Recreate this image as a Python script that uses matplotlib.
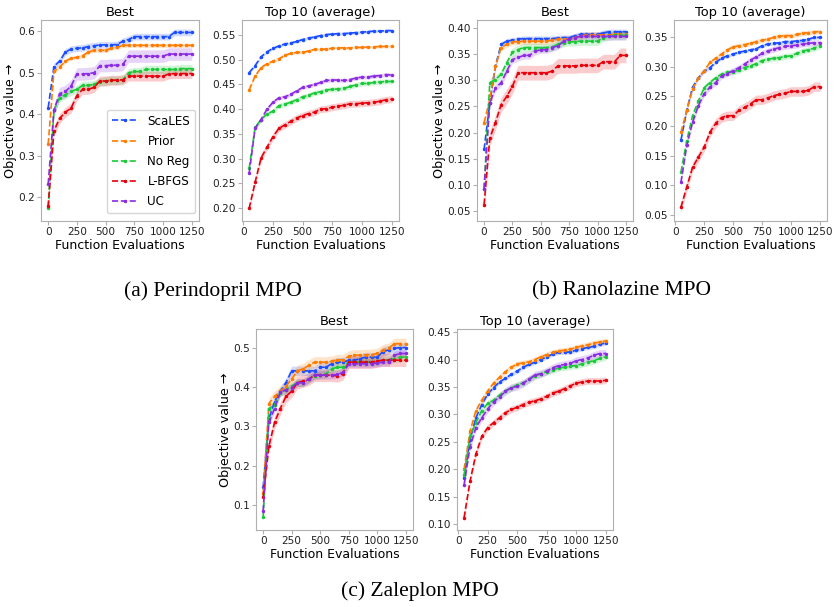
import matplotlib
matplotlib.use('Agg')
import matplotlib.pyplot as plt
import numpy as np

plt.rcParams.update({
    'font.family': 'DejaVu Sans',
    'xtick.labelsize': 7.6,
    'ytick.labelsize': 7.6,
    'axes.titlesize': 9.4,
    'legend.fontsize': 8.6,
})

# --- dati ---
x_best = list(range(0, 1251, 50))
x_top = list(range(50, 1251, 50))

methods = ['ScaLES', 'Prior', 'No Reg', 'L-BFGS', 'UC']
colors = ['#1a4dff', '#ff7c00', '#1ac938', '#e8000b', '#8b2be2']

# (a) Perindopril MPO
peri_best_scales = [0.416, 0.515, 0.528, 0.550, 0.557, 0.559, 0.560, 0.563, 0.565, 0.567, 0.567, 0.567, 0.568,
                    0.576, 0.580, 0.587, 0.587, 0.587, 0.587, 0.587, 0.587, 0.587, 0.597, 0.597, 0.597, 0.597]
peri_best_prior = [0.328, 0.503, 0.514, 0.528, 0.535, 0.537, 0.541, 0.550, 0.554, 0.554, 0.554, 0.559, 0.561,
                   0.566, 0.566, 0.566, 0.566, 0.566, 0.566, 0.566, 0.566, 0.566, 0.566, 0.566, 0.566, 0.566]
peri_best_noreg = [0.175, 0.410, 0.440, 0.447, 0.455, 0.460, 0.470, 0.470, 0.472, 0.478, 0.480, 0.482, 0.482,
                   0.483, 0.500, 0.503, 0.503, 0.508, 0.508, 0.508, 0.508, 0.508, 0.508, 0.510, 0.510, 0.510]
peri_best_lbfgs = [0.178, 0.360, 0.390, 0.405, 0.415, 0.445, 0.460, 0.460, 0.465, 0.480, 0.480, 0.482, 0.482,
                   0.483, 0.492, 0.492, 0.492, 0.492, 0.492, 0.492, 0.492, 0.497, 0.498, 0.498, 0.498, 0.498]
peri_best_uc = [0.232, 0.410, 0.450, 0.455, 0.468, 0.497, 0.497, 0.498, 0.500, 0.517, 0.517, 0.518, 0.518,
                0.520, 0.540, 0.540, 0.540, 0.540, 0.540, 0.540, 0.540, 0.545, 0.545, 0.545, 0.545, 0.545]
peri_best_band = [0.008, 0.005, 0.010, 0.012, 0.015]

peri_top_scales = [0.474, 0.488, 0.506, 0.516, 0.523, 0.528, 0.532, 0.534, 0.537, 0.541, 0.544, 0.546, 0.549,
                   0.551, 0.552, 0.553, 0.553, 0.554, 0.555, 0.556, 0.557, 0.558, 0.558, 0.559, 0.559]
peri_top_prior = [0.439, 0.467, 0.484, 0.492, 0.497, 0.502, 0.509, 0.513, 0.515, 0.515, 0.518, 0.521, 0.521,
                  0.522, 0.523, 0.524, 0.524, 0.524, 0.525, 0.525, 0.526, 0.526, 0.527, 0.527, 0.527]
peri_top_noreg = [0.280, 0.363, 0.379, 0.390, 0.396, 0.407, 0.410, 0.414, 0.419, 0.425, 0.428, 0.433, 0.435,
                  0.439, 0.440, 0.441, 0.442, 0.446, 0.449, 0.452, 0.452, 0.454, 0.455, 0.456, 0.456]
peri_top_lbfgs = [0.199, 0.252, 0.301, 0.323, 0.344, 0.361, 0.368, 0.375, 0.382, 0.387, 0.391, 0.394, 0.400,
                  0.401, 0.404, 0.406, 0.408, 0.411, 0.411, 0.412, 0.413, 0.414, 0.416, 0.419, 0.420]
peri_top_uc = [0.270, 0.361, 0.379, 0.400, 0.414, 0.423, 0.425, 0.430, 0.437, 0.444, 0.447, 0.450, 0.454,
               0.458, 0.459, 0.459, 0.458, 0.460, 0.463, 0.465, 0.465, 0.467, 0.468, 0.470, 0.469]
peri_top_band = [0.003, 0.003, 0.005, 0.007, 0.004]

# (b) Ranolazine MPO
rano_best_scales = [0.168, 0.256, 0.327, 0.368, 0.374, 0.376, 0.378, 0.379, 0.379, 0.379, 0.379, 0.379, 0.379,
                    0.380, 0.381, 0.381, 0.384, 0.387, 0.387, 0.387, 0.387, 0.390, 0.392, 0.392, 0.392, 0.392]
rano_best_prior = [0.219, 0.263, 0.327, 0.362, 0.368, 0.373, 0.373, 0.374, 0.374, 0.374, 0.374, 0.374, 0.376,
                   0.378, 0.378, 0.378, 0.381, 0.384, 0.386, 0.386, 0.386, 0.386, 0.386, 0.387, 0.387, 0.387]
rano_best_noreg = [0.093, 0.295, 0.301, 0.311, 0.333, 0.353, 0.358, 0.362, 0.362, 0.362, 0.362, 0.362, 0.363,
                   0.368, 0.371, 0.373, 0.373, 0.374, 0.374, 0.374, 0.374, 0.381, 0.384, 0.385, 0.385, 0.385]
rano_best_lbfgs = [0.063, 0.189, 0.219, 0.253, 0.269, 0.288, 0.314, 0.314, 0.314, 0.314, 0.314, 0.314, 0.317,
                   0.327, 0.327, 0.327, 0.327, 0.328, 0.328, 0.328, 0.328, 0.335, 0.335, 0.335, 0.347, 0.347]
rano_best_uc = [0.093, 0.256, 0.285, 0.295, 0.317, 0.339, 0.343, 0.347, 0.347, 0.355, 0.358, 0.358, 0.362,
                0.365, 0.374, 0.378, 0.381, 0.383, 0.383, 0.383, 0.383, 0.383, 0.383, 0.383, 0.383, 0.383]
rano_best_band = [0.005, 0.006, 0.008, 0.014, 0.007]

rano_top_scales = [0.176, 0.226, 0.265, 0.281, 0.292, 0.298, 0.307, 0.314, 0.318, 0.321, 0.324, 0.326, 0.328,
                   0.330, 0.335, 0.338, 0.339, 0.340, 0.342, 0.342, 0.343, 0.344, 0.346, 0.349, 0.349]
rano_top_prior = [0.189, 0.226, 0.262, 0.281, 0.293, 0.307, 0.314, 0.321, 0.328, 0.333, 0.335, 0.337, 0.339,
                  0.342, 0.344, 0.346, 0.349, 0.351, 0.352, 0.352, 0.354, 0.356, 0.357, 0.358, 0.359]
rano_top_noreg = [0.122, 0.175, 0.217, 0.242, 0.264, 0.273, 0.281, 0.287, 0.290, 0.291, 0.294, 0.298, 0.301,
                  0.305, 0.310, 0.312, 0.314, 0.315, 0.317, 0.318, 0.322, 0.326, 0.328, 0.331, 0.335]
rano_top_lbfgs = [0.063, 0.097, 0.130, 0.147, 0.164, 0.189, 0.204, 0.214, 0.217, 0.217, 0.226, 0.231, 0.237,
                  0.244, 0.244, 0.247, 0.251, 0.253, 0.255, 0.258, 0.258, 0.258, 0.260, 0.266, 0.266]
rano_top_uc = [0.105, 0.167, 0.206, 0.234, 0.254, 0.265, 0.273, 0.284, 0.288, 0.293, 0.298, 0.304, 0.311,
               0.316, 0.322, 0.326, 0.329, 0.332, 0.334, 0.335, 0.336, 0.338, 0.339, 0.340, 0.340]
rano_top_band = [0.003, 0.004, 0.005, 0.008, 0.005]

# (c) Zaleplon MPO
zale_best_scales = [0.145, 0.319, 0.363, 0.389, 0.411, 0.441, 0.441, 0.441, 0.441, 0.441, 0.450, 0.450, 0.459,
                    0.463, 0.463, 0.468, 0.468, 0.472, 0.476, 0.476, 0.476, 0.490, 0.494, 0.498, 0.500, 0.500]
zale_best_prior = [0.130, 0.358, 0.376, 0.389, 0.402, 0.420, 0.441, 0.446, 0.455, 0.463, 0.463, 0.463, 0.465,
                   0.469, 0.469, 0.478, 0.481, 0.481, 0.482, 0.482, 0.485, 0.494, 0.498, 0.510, 0.510, 0.510]
zale_best_noreg = [0.070, 0.345, 0.354, 0.385, 0.393, 0.402, 0.411, 0.411, 0.420, 0.428, 0.431, 0.433, 0.446,
                   0.450, 0.450, 0.463, 0.463, 0.463, 0.463, 0.463, 0.463, 0.468, 0.469, 0.472, 0.475, 0.476]
zale_best_lbfgs = [0.120, 0.249, 0.310, 0.345, 0.376, 0.389, 0.411, 0.415, 0.420, 0.430, 0.430, 0.430, 0.430,
                   0.428, 0.434, 0.463, 0.463, 0.463, 0.463, 0.463, 0.466, 0.468, 0.468, 0.468, 0.468, 0.468]
zale_best_uc = [0.085, 0.310, 0.345, 0.387, 0.393, 0.398, 0.411, 0.411, 0.420, 0.430, 0.430, 0.430, 0.430,
                0.432, 0.437, 0.459, 0.459, 0.459, 0.459, 0.459, 0.461, 0.463, 0.463, 0.481, 0.485, 0.485]
zale_best_band = [0.012, 0.014, 0.010, 0.016, 0.010]

zale_top_scales = [0.184, 0.254, 0.294, 0.318, 0.337, 0.349, 0.359, 0.366, 0.373, 0.379, 0.386, 0.391, 0.395,
                   0.400, 0.405, 0.410, 0.413, 0.413, 0.414, 0.417, 0.420, 0.422, 0.424, 0.428, 0.430]
zale_top_prior = [0.200, 0.269, 0.307, 0.326, 0.343, 0.357, 0.368, 0.378, 0.386, 0.392, 0.394, 0.396, 0.400,
                  0.405, 0.409, 0.413, 0.416, 0.417, 0.419, 0.422, 0.425, 0.427, 0.430, 0.432, 0.434]
zale_top_noreg = [0.190, 0.260, 0.285, 0.307, 0.320, 0.326, 0.335, 0.343, 0.348, 0.354, 0.357, 0.364, 0.370,
                  0.374, 0.378, 0.381, 0.385, 0.386, 0.388, 0.389, 0.392, 0.395, 0.398, 0.402, 0.405]
zale_top_lbfgs = [0.112, 0.178, 0.228, 0.260, 0.276, 0.285, 0.294, 0.303, 0.309, 0.313, 0.318, 0.322, 0.325,
                  0.328, 0.333, 0.339, 0.342, 0.347, 0.352, 0.357, 0.359, 0.361, 0.361, 0.361, 0.362]
zale_top_uc = [0.172, 0.241, 0.276, 0.294, 0.310, 0.323, 0.332, 0.342, 0.349, 0.351, 0.357, 0.364, 0.372,
               0.374, 0.379, 0.385, 0.389, 0.391, 0.393, 0.398, 0.400, 0.403, 0.408, 0.411, 0.411]
zale_top_band = [0.004, 0.005, 0.006, 0.006, 0.007]

# pannelli: (pixel left, right, top, bottom), x, serie, banda, titolo, best?
W, H = 834, 607
panels = [
    ((41, 199, 20, 221), x_best, [peri_best_scales, peri_best_prior, peri_best_noreg, peri_best_lbfgs, peri_best_uc], peri_best_band, 'Best', True),
    ((242, 399, 20, 221), x_top, [peri_top_scales, peri_top_prior, peri_top_noreg, peri_top_lbfgs, peri_top_uc], peri_top_band, 'Top 10 (average)', False),
    ((477, 633, 20, 221), x_best, [rano_best_scales, rano_best_prior, rano_best_noreg, rano_best_lbfgs, rano_best_uc], rano_best_band, 'Best', True),
    ((674, 827, 20, 221), x_top, [rano_top_scales, rano_top_prior, rano_top_noreg, rano_top_lbfgs, rano_top_uc], rano_top_band, 'Top 10 (average)', False),
    ((256, 413, 329, 530), x_best, [zale_best_scales, zale_best_prior, zale_best_noreg, zale_best_lbfgs, zale_best_uc], zale_best_band, 'Best', True),
    ((457, 613, 329, 530), x_top, [zale_top_scales, zale_top_prior, zale_top_noreg, zale_top_lbfgs, zale_top_uc], zale_top_band, 'Top 10 (average)', False),
]

fig = plt.figure(figsize=(W / 100, H / 100), dpi=100)

axes = []
for (l, r, t, b), xs, series, band, title, is_best in panels:
    ax = fig.add_axes([l / W, 1 - b / H, (r - l) / W, (b - t) / H])
    for name, c, ys, hw in zip(methods, colors, series, band):
        ys = np.array(ys)
        ax.fill_between(xs, ys - hw, ys + hw, color=c, alpha=0.2, linewidth=0)
        ax.plot(xs, ys, '--', color=c, marker='.', markersize=3, linewidth=1.2, label=name)
    ax.set_title(title, pad=3)
    ax.set_xlabel('Function Evaluations', fontsize=9, labelpad=1)
    if is_best:
        ax.set_ylabel('Objective value \u2192', fontsize=9.2, labelpad=0.8)
    ax.set_xticks([0, 250, 500, 750, 1000, 1250])
    for s in ax.spines.values():
        s.set_color('#b0b0b0')
    ax.tick_params(colors='#b0b0b0', labelcolor='#222222', length=3, pad=1.5)
    axes.append(ax)

axes[0].legend(loc='lower right', bbox_to_anchor=((195 - 41) / 158, (221 - 213) / 201),
               borderaxespad=0, handlelength=2.2, labelspacing=0.6)

cap = dict(family='Liberation Serif', fontsize=15.5, ha='center', va='center')
fig.text(213 / W, 1 - 291 / H, '(a) Perindopril MPO', **cap)
fig.text(622 / W, 1 - 291 / H, '(b) Ranolazine MPO', **cap)
fig.text(420 / W, 1 - 591 / H, '(c) Zaleplon MPO', **cap)

plt.savefig('out.png', dpi=100)
